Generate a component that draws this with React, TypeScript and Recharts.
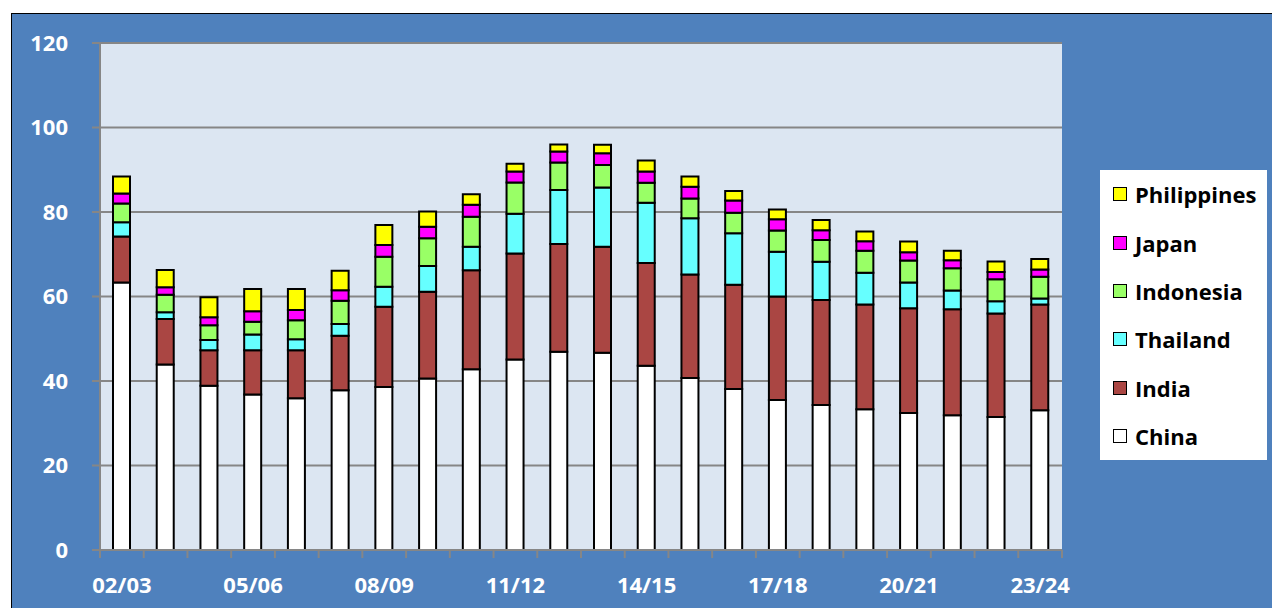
import React from 'react';
import { BarChart, Bar, XAxis, YAxis, CartesianGrid } from 'recharts';

const years = ['02/03','03/04','04/05','05/06','06/07','07/08','08/09','09/10','10/11','11/12','12/13','13/14','14/15','15/16','16/17','17/18','18/19','19/20','20/21','21/22','22/23','23/24'];
const china = [63.3,43.9,38.9,36.8,35.9,37.8,38.6,40.6,42.8,45.1,46.9,46.7,43.6,40.7,38.1,35.5,34.3,33.3,32.4,31.9,31.5,33.1];
const india = [10.9,10.8,8.4,10.5,11.4,12.9,19.0,20.5,23.4,25.1,25.5,25.1,24.3,24.5,24.7,24.5,24.9,24.8,24.8,25.1,24.5,25.0];
const thailand = [3.4,1.6,2.4,3.7,2.6,2.8,4.7,6.1,5.6,9.4,12.8,14.0,14.3,13.3,12.2,10.6,9.0,7.5,6.1,4.4,2.9,1.4];
const indonesia = [4.4,4.1,3.5,3.0,4.5,5.5,7.1,6.6,7.1,7.4,6.5,5.3,4.7,4.7,4.8,5.0,5.2,5.2,5.2,5.3,5.2,5.2];
const japan = [2.4,1.8,1.9,2.5,2.4,2.5,2.8,2.7,2.8,2.6,2.6,2.8,2.7,2.8,2.9,2.7,2.3,2.3,2.0,1.9,1.7,1.7];
const philippines = [4.0,4.1,4.7,5.3,5.0,4.6,4.7,3.6,2.5,1.8,1.7,2.0,2.6,2.4,2.3,2.3,2.4,2.3,2.5,2.2,2.5,2.5];
const yTicks = [0,20,40,60,80,100,120];

const series = [
  { key: 'China', color: '#FFFFFF', values: china },
  { key: 'India', color: '#AA4643', values: india },
  { key: 'Thailand', color: '#66FFFF', values: thailand },
  { key: 'Indonesia', color: '#99FF66', values: indonesia },
  { key: 'Japan', color: '#FF00FF', values: japan },
  { key: 'Philippines', color: '#FFFF00', values: philippines },
];

const data = years.map((y, i) => {
  const row: any = { year: y };
  series.forEach(s => { row[s.key] = s.values[i]; });
  return row;
});

const FONT = '"Open Sans", sans-serif';
const GRID = '#868686';

const XTick = (props: any) => {
  const { x, y, payload, index, visibleTicksCount } = props;
  const off = payload.offset || 0;
  return (
    <g>
      <line x1={x - off} x2={x - off} y1={y - 8} y2={y} stroke={GRID} strokeWidth={2} />
      {index === visibleTicksCount - 1 && (
        <line x1={x + off} x2={x + off} y1={y - 8} y2={y} stroke={GRID} strokeWidth={2} />
      )}
      {index % 3 === 0 && (
        <text x={x} y={y + 35} textAnchor="middle" fill="#FFFFFF" fontFamily={FONT} fontWeight={700} fontSize={22}>
          {payload.value}
        </text>
      )}
    </g>
  );
};

const LegendBox = () => (
  <div style={{ position: 'absolute', left: 1100, top: 170, background: '#FFFFFF', width: 167, height: 290, boxSizing: 'border-box', paddingTop: 0 }}>
    {[...series].reverse().map(s => (
      <div key={s.key} style={{ display: 'flex', alignItems: 'center', height: 48.4, paddingLeft: 13 }}>
        <span style={{ width: 12, height: 12, background: s.color, border: '1.5px solid #000', display: 'inline-block', marginRight: 8 }} />
        <span style={{ fontFamily: FONT, fontWeight: 700, fontSize: 22, color: '#000', lineHeight: '24px' }}>{s.key}</span>
      </div>
    ))}
  </div>
);

export default function App() {
  return (
    <div style={{ position: 'fixed', left: 0, top: 0, width: 1272, height: 608, background: '#FFFFFF', overflow: 'hidden' }}>
      <div style={{ position: 'absolute', left: 11, top: 13, right: 0, bottom: 0, background: '#4F81BD', borderLeft: '1.5px solid #000', borderTop: '1.5px solid #000' }} />
      <div style={{ position: 'absolute', left: 0, top: 0 }}>
        <BarChart width={1272} height={608} data={data} margin={{ top: 43, right: 210, bottom: 0, left: 0 }} barSize={17}>
          <CartesianGrid vertical={false} stroke={GRID} strokeWidth={2} fill="#DCE6F2" />
          <XAxis dataKey="year" height={58} interval={0} tickSize={8} tickMargin={0} tickLine={false}
            axisLine={{ stroke: GRID, strokeWidth: 2 }} tick={<XTick />} />
          <YAxis width={100} domain={[0, 120]} ticks={yTicks} interval={0} tickSize={8} tickMargin={24}
            axisLine={{ stroke: GRID, strokeWidth: 2 }} tickLine={{ stroke: GRID, strokeWidth: 2 }}
            tick={{ fill: '#FFFFFF', fontFamily: FONT, fontWeight: 700, fontSize: 22 }} />
          {series.map(s => (
            <Bar key={s.key} dataKey={s.key} stackId="a" fill={s.color} stroke="#000" strokeWidth={2} isAnimationActive={false} />
          ))}
        </BarChart>
      </div>
      <LegendBox />
    </div>
  );
}
